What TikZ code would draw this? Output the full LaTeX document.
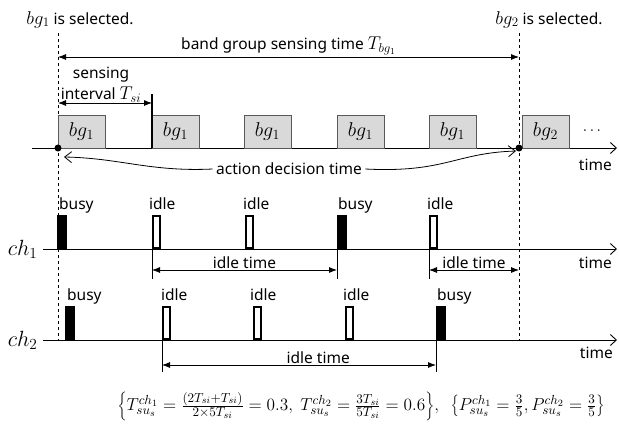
\documentclass[tikz,border=0pt]{standalone}
\usepackage{fix-cm}
\usepackage{fontspec}
\setmainfont{Noto Sans}
\usetikzlibrary{positioning,arrows.meta,calc}
\definecolor{boxfill}{HTML}{d9d9d9}
\definecolor{boxline}{HTML}{595959}
\newcommand{\mx}[1]{{\fontsize{18.5}{20}\selectfont$#1$}}
\DeclareMathSizes{14.4}{14.4}{10.95}{8}

\begin{document}
\begin{tikzpicture}[x=1pt,y=-1pt,font=\fontsize{15.5}{17}\selectfont,
  bgbox/.style={draw=boxline,fill=boxfill,minimum width=46.5pt,minimum height=33pt,inner sep=0pt,anchor=south west,font=\fontsize{20}{22}\selectfont},
  busybar/.style={fill=black,minimum width=10pt,minimum height=34pt,inner sep=0pt,outer sep=0pt,anchor=south west},
  idlebar/.style={draw=black,line width=1.6pt,fill=white,minimum width=7pt,minimum height=32pt,inner sep=0pt,anchor=south west},
  axis/.style={line width=0.9pt,-{Straight Barb[length=6pt,width=11pt]}},
  dim/.style={line width=0.8pt,{Latex[length=8pt,width=6pt]}-{Latex[length=8pt,width=6pt]}},
  curv/.style={line width=0.8pt,-{Straight Barb[length=7pt,width=11pt]}},
  guide/.style={dashed,line width=0.8pt},
  tick/.style={line width=0.8pt},
  chlbl/.style={anchor=base east,font=\fontsize{22}{24}\selectfont},
  tlbl/.style={anchor=north east,inner sep=0pt},
  dot/.style={circle,fill=black,inner sep=0pt,minimum size=7pt}]
  \useasboundingbox (0,0) rectangle (619,429);
  % guide lines at the two selection instants
  \coordinate (lt) at (58,33);  \coordinate (lb) at (58,340);
  \coordinate (rt) at (519,33); \coordinate (rb) at (519,340);
  \draw[guide] (lt) -- (lb);
  \draw[guide] (rt) -- (rb);
  \node[anchor=base] (sel1) at (80,24) {\mx{bg_1} is selected.};
  \node[anchor=base] (sel2) at (549,24) {\mx{bg_2} is selected.};
  \draw[dim] ($(lt)+(0,24)$) -- node[above,inner sep=2pt] (bgt) {band group sensing time \mx{T_{bg_1}}} ($(rt)+(0,24)$);
  % band group row
  \coordinate (t0) at (32,148); \coordinate (t1) at (617,148);
  \draw[axis] (t0) -- (t1);
  \node[tlbl,below left=11pt and 5pt of t1] (tm0) {time};
  \foreach \k/\x/\g in {1/58/1,2/152/1,3/244/1,4/337/1,5/429/1,6/522/2}
    \node[bgbox] (b\k) at (\x,148) {$bg_\g$};
  \node (more) at (592,131) {$\cdots$};
  \draw[line width=1.5pt] (b2.south west) -- ++(0,-54);
  \draw[dim] ($(b1.south west)+(0,-45)$) -- node[above,inner sep=0pt,xshift=-4pt,align=center,font=\fontsize{15.5}{21}\selectfont] (si) {sensing\\interval \mx{T_{si}}} ($(b2.south west)+(0,-45)$);
  \node[dot] (dl) at (58,148) {};
  \node[dot] (dr) at (519,148) {};
  \node (adt) at (289,169) {action decision time};
  \draw[curv] (adt.west) .. controls (150,172) and (120,158) .. ($(dl)+(6,9)$);
  \draw[curv] (adt.east) .. controls (445,173) and (455,153) .. ($(dr)+(-3,3)$);
  % channel 1
  \coordinate (a0) at (43,249); \coordinate (ae) at (617,249);
  \draw[axis] (a0) -- (ae);
  \node[chlbl] (ch1) at ([xshift=-2pt,yshift=-6pt]a0) {$ch_1$};
  \node[tlbl,below left=8pt and 5pt of ae] (tm1) {time};
  \foreach \k/\s/\x/\o in {1/busy/57/2,2/idle/152/-3,3/idle/245/-2,4/busy/337/1,5/idle/429/-2} {
    \node[\s bar] (a\k) at (\x,249) {};
    \node[anchor=base west,inner sep=0pt] (la\k) at ([xshift=\o pt,yshift=6pt]a\k.north west) {\s};
  }
  \foreach \k in {2,4,5}
    \draw[tick] (a\k.south west) -- ++(0,30);
  \draw[dim] ($(a2.south west)+(0,21)$) -- node[above,inner sep=1pt] (it1) {idle time} ($(a4.south west)+(0,21)$);
  \draw[dim] ($(a5.south west)+(0,21)$) coordinate (p5) -- node[above,inner sep=1pt] (it2) {idle time} (p5 -| rb);
  % channel 2
  \coordinate (c0) at (43,340); \coordinate (ce) at (617,340);
  \draw[axis] (c0) -- (ce);
  \node[chlbl] (ch2) at ([xshift=-2pt,yshift=-6pt]c0) {$ch_2$};
  \node[tlbl,below left=7pt and 4pt of ce] (tm2) {time};
  \foreach \k/\s/\x/\o in {1/busy/65/2,2/idle/162/-1,3/idle/253/-3,4/idle/345/-2,5/busy/436/1} {
    \node[\s bar] (c\k) at (\x,340) {};
    \node[anchor=base west,inner sep=0pt] (lc\k) at ([xshift=\o pt,yshift=6pt]c\k.north west) {\s};
  }
  \foreach \k in {2,5}
    \draw[tick] (c\k.south west) -- ++(0,32);
  \draw[dim] ($(c2.south west)+(0,25)$) -- node[above,inner sep=1pt,pos=0.57] (it3) {idle time} ($(c5.south west)+(0,25)$);
  % resulting values
  \node[font=\fontsize{14.4}{16}\selectfont,scale=1.2] (eq) at (361,406) {$\left\{T^{ch_1}_{su_s}=\frac{(2T_{si}+T_{si})}{2\times 5T_{si}}=0.3,\ T^{ch_2}_{su_s}=\frac{3T_{si}}{5T_{si}}=0.6\right\}\!,\ \ \left\{P^{ch_1}_{su_s}=\frac{3}{5},P^{ch_2}_{su_s}=\frac{3}{5}\right\}$};
\end{tikzpicture}
\end{document}
